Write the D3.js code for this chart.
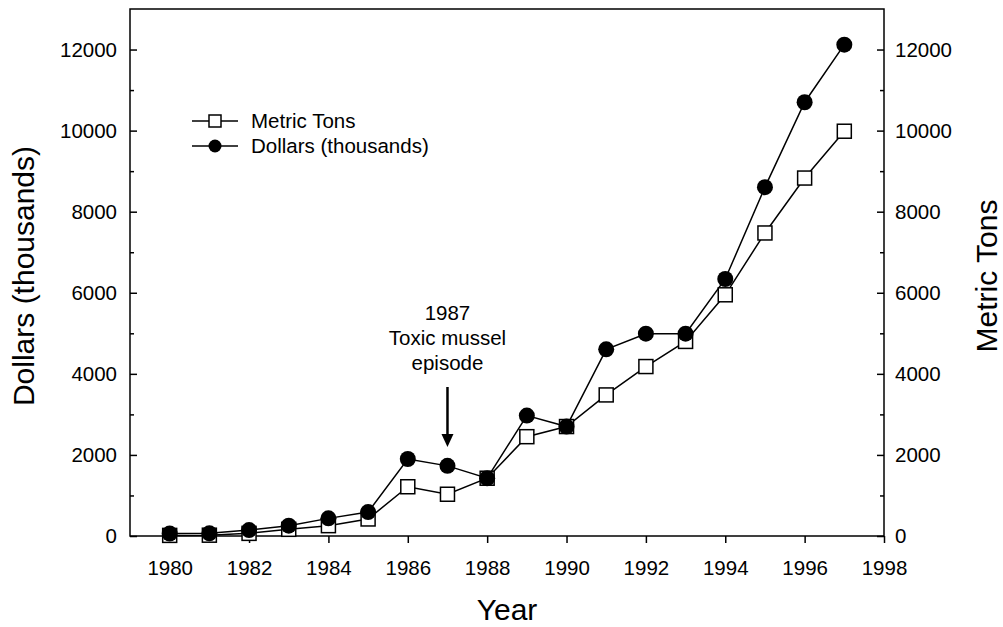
<!DOCTYPE html>
<html>
<head>
<meta charset="utf-8" />
<title>Mussel harvest</title>
<script src="https://d3js.org/d3.v7.min.js"></script>
<style>
  body { margin: 0; background: #fff; }
  text { font-family: "Liberation Sans", Arial, sans-serif; fill: #000; }
</style>
</head>
<body>
<script>

var years = [1980, 1981, 1982, 1983, 1984, 1985, 1986, 1987, 1988, 1989, 1990, 1991, 1992, 1993, 1994, 1995, 1996, 1997];
var dollars = [60, 65, 145, 255, 435, 590, 1900, 1730, 1425, 2970, 2700, 4605, 4990, 4990, 6340, 8605, 10700, 12120];
var tons = [15, 20, 65, 165, 255, 420, 1215, 1030, 1425, 2450, 2700, 3480, 4180, 4800, 5950, 7475, 8830, 9985];
var xTicks = [1980, 1982, 1984, 1986, 1988, 1990, 1992, 1994, 1996, 1998];
var yTicks = [0, 2000, 4000, 6000, 8000, 10000, 12000];
var yMinor = [1000, 3000, 5000, 7000, 9000, 11000];

var svg = d3.select("body").append("svg")
	.attr("width", 1003)
	.attr("height", 627);

var pLeft = 130, pRight = 884, pTop = 9, pBottom = 536;

var x = d3.scaleLinear().domain([1979, 1998]).range([pLeft, pRight]);
var y = d3.scaleLinear().domain([0, 13000]).range([pBottom, pTop]);
var y2 = d3.scaleLinear().domain([0, 13000]).range([pBottom, pTop]);

// frame
svg.append("rect")
	.attr("x", pLeft).attr("y", pTop)
	.attr("width", pRight - pLeft).attr("height", pBottom - pTop)
	.attr("fill", "none").attr("stroke", "#000").attr("stroke-width", 1.5);

// axes
function styleAxis(g) {
	g.select(".domain").remove();
	g.selectAll(".tick line").attr("stroke", "#000").attr("stroke-width", 1.5);
	g.selectAll(".tick text").attr("font-size", "20.5px").attr("fill", "#000");
}

svg.append("g")
	.attr("transform", "translate(0," + pBottom + ")")
	.call(d3.axisBottom(x).tickValues(xTicks).tickFormat(d3.format("d")).tickSize(7).tickPadding(17))
	.call(styleAxis);

svg.append("g")
	.attr("transform", "translate(" + pLeft + ",0)")
	.call(d3.axisLeft(y).tickValues(yTicks).tickFormat(d3.format("d")).tickSize(-7).tickPadding(13))
	.call(styleAxis);
svg.append("g")
	.attr("transform", "translate(" + pLeft + ",0)")
	.call(d3.axisLeft(y).tickValues(yMinor).tickFormat("").tickSize(-4))
	.call(styleAxis);

svg.append("g")
	.attr("transform", "translate(" + pRight + ",0)")
	.call(d3.axisRight(y2).tickValues(yTicks).tickFormat(d3.format("d")).tickSize(-7).tickPadding(11))
	.call(styleAxis);
svg.append("g")
	.attr("transform", "translate(" + pRight + ",0)")
	.call(d3.axisRight(y2).tickValues(yMinor).tickFormat("").tickSize(-4))
	.call(styleAxis);

// axis titles
svg.append("text")
	.attr("x", (pLeft + pRight) / 2).attr("y", 620)
	.attr("text-anchor", "middle").attr("font-size", "30px")
	.text("Year");

svg.append("text")
	.attr("transform", "translate(34,276) rotate(-90)")
	.attr("text-anchor", "middle").attr("font-size", "30px")
	.text("Dollars (thousands)");

svg.append("text")
	.attr("transform", "translate(997,276) rotate(-90)")
	.attr("text-anchor", "middle").attr("font-size", "30px")
	.text("Metric Tons");

// lines
var tonLine = d3.line().x(function(d, i){ return x(years[i]); }).y(function(d){ return y2(d); });
var dolLine = d3.line().x(function(d, i){ return x(years[i]); }).y(function(d){ return y(d); });

svg.append("path").datum(tons)
	.attr("d", tonLine).attr("fill", "none").attr("stroke", "#000").attr("stroke-width", 1.5);
svg.append("path").datum(dollars)
	.attr("d", dolLine).attr("fill", "none").attr("stroke", "#000").attr("stroke-width", 1.5);

svg.selectAll("rect.ton")
	.data(tons)
	.enter()
	.append("rect")
	.attr("class", "ton")
	.attr("x", function(d, i){ return x(years[i]) - 7; })
	.attr("y", function(d){ return y2(d) - 7; })
	.attr("width", 14).attr("height", 14)
	.attr("fill", "#fff").attr("stroke", "#000").attr("stroke-width", 1.5);

svg.selectAll("circle.dol")
	.data(dollars)
	.enter()
	.append("circle")
	.attr("class", "dol")
	.attr("cx", function(d, i){ return x(years[i]); })
	.attr("cy", function(d){ return y(d); })
	.attr("r", 8)
	.attr("fill", "#000");

// legend
var legend = svg.append("g");
legend.append("line").attr("x1", 192).attr("x2", 238).attr("y1", 121).attr("y2", 121)
	.attr("stroke", "#000").attr("stroke-width", 1.5);
legend.append("rect").attr("x", 209).attr("y", 115).attr("width", 12).attr("height", 12)
	.attr("fill", "#fff").attr("stroke", "#000").attr("stroke-width", 1.5);
legend.append("text").attr("x", 251).attr("y", 128).attr("font-size", "20.5px").text("Metric Tons");

legend.append("line").attr("x1", 192).attr("x2", 238).attr("y1", 146).attr("y2", 146)
	.attr("stroke", "#000").attr("stroke-width", 1.5);
legend.append("circle").attr("cx", 215).attr("cy", 146).attr("r", 6.5).attr("fill", "#000");
legend.append("text").attr("x", 251).attr("y", 153).attr("font-size", "20.5px").text("Dollars (thousands)");

// annotation
var ax = x(1987);
var note = svg.append("text").attr("text-anchor", "middle").attr("font-size", "20.5px");
note.append("tspan").attr("x", ax).attr("y", 320).text("1987");
note.append("tspan").attr("x", ax).attr("y", 345).text("Toxic mussel");
note.append("tspan").attr("x", ax).attr("y", 370).text("episode");

svg.append("line").attr("x1", ax).attr("x2", ax).attr("y1", 387).attr("y2", 436)
	.attr("stroke", "#000").attr("stroke-width", 2.5);
svg.append("path")
	.attr("d", "M" + (ax - 6) + ",434 L" + (ax + 6) + ",434 L" + ax + ",447 Z")
	.attr("fill", "#000");

</script>
</body>
</html>
